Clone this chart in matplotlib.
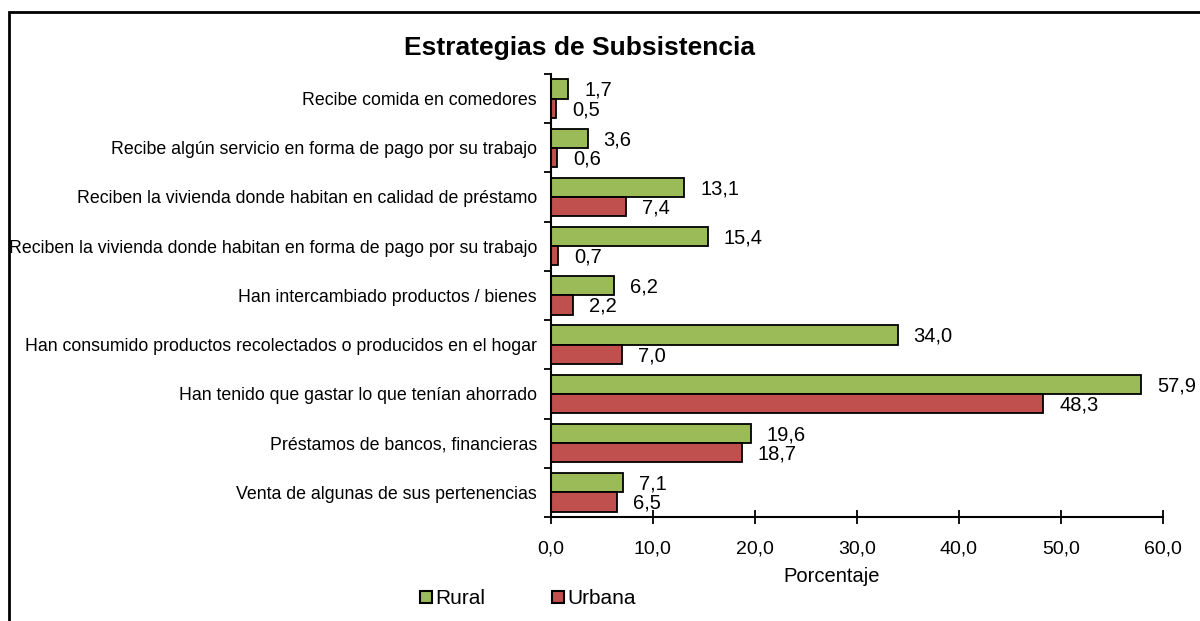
import numpy as np
import matplotlib
matplotlib.use('Agg')
import matplotlib.pyplot as plt
from matplotlib.patches import Rectangle
from matplotlib.lines import Line2D

plt.rcParams['font.family'] = ['Liberation Sans', 'DejaVu Sans']

# Datos (de arriba hacia abajo)
categorias = [
    'Recibe comida en comedores',
    'Recibe algún servicio en forma de pago por su trabajo',
    'Reciben la vivienda donde habitan en calidad de préstamo',
    'Reciben la vivienda donde habitan en forma de pago por su trabajo',
    'Han intercambiado productos / bienes',
    'Han consumido productos recolectados o producidos en el hogar',
    'Han tenido que gastar lo que tenían ahorrado',
    'Préstamos de bancos, financieras',
    'Venta de algunas de sus pertenencias',
]
rural = [1.7, 3.6, 13.1, 15.4, 6.2, 34.0, 57.9, 19.6, 7.1]
urbana = [0.5, 0.6, 7.4, 0.7, 2.2, 7.0, 48.3, 18.7, 6.5]
xticks = [0, 10, 20, 30, 40, 50, 60]

verde = '#9BBB59'
rojo = '#C0504D'

def coma(v):
    return ('%.1f' % v).replace('.', ',')

fig = plt.figure(figsize=(12, 6.21), dpi=100)
ax = fig.add_axes([0.459, 0.1675, 0.51, 0.7135])

n = len(categorias)
y = np.arange(n)
h = 0.39

ax.barh(y - h / 2, rural, height=h, color=verde, edgecolor='black', linewidth=1.3, label='Rural')
ax.barh(y + h / 2, urbana, height=h, color=rojo, edgecolor='black', linewidth=1.3, label='Urbana')

# etiquetas de valor
for i in range(n):
    ax.annotate(coma(rural[i]), (rural[i], y[i] - h / 2), xytext=(11.5, -1), textcoords='offset points',
                ha='left', va='center', fontsize=14.5)
    ax.annotate(coma(urbana[i]), (urbana[i], y[i] + h / 2), xytext=(11.5, -1), textcoords='offset points',
                ha='left', va='center', fontsize=14.5)

ax.set_ylim(n - 0.5, -0.5)
ax.set_xlim(0, 60)
ax.set_xticks(xticks)
ax.set_xticklabels([coma(v) for v in xticks], fontsize=14)
ax.set_yticks(y)
ax.set_yticklabels(categorias, fontsize=12.8)
ax.set_yticks(np.arange(n + 1) - 0.5, minor=True)
ax.tick_params(axis='y', which='major', length=0, pad=10)
ax.tick_params(axis='y', which='minor', length=5, width=1.3, direction='out')
ax.tick_params(axis='x', which='major', length=10, width=1.3, direction='inout', pad=12)

for s in ['top', 'right']:
    ax.spines[s].set_visible(False)
ax.spines['left'].set_linewidth(1.5)
ax.spines['bottom'].set_linewidth(1.5)

fig.text(0.483, 0.923, 'Estrategias de Subsistencia', ha='center', va='center',
         fontsize=19, fontweight='bold')
fig.text(832 / 1200, 1 - 577 / 621, 'Porcentaje', ha='center', va='center', fontsize=14.5)

# leyenda abajo
manejadores = [
    Line2D([], [], marker='s', linestyle='', markersize=8, markerfacecolor=verde, markeredgecolor='black', markeredgewidth=1.5),
    Line2D([], [], marker='s', linestyle='', markersize=8, markerfacecolor=rojo, markeredgecolor='black', markeredgewidth=1.5),
]
fig.legend(manejadores, ['Rural', 'Urbana'], loc='center', bbox_to_anchor=(0.44, 1 - 599 / 621), ncol=2,
           frameon=False, fontsize=15, handlelength=0.6, handletextpad=0.15, columnspacing=3.2)

# marco exterior
fig.patches.append(Rectangle((9 / 1200, -0.1), 1.1, 0.981 + 0.1, transform=fig.transFigure,
                             fill=False, edgecolor='black', linewidth=2))

fig.savefig('out.png', dpi=100)
